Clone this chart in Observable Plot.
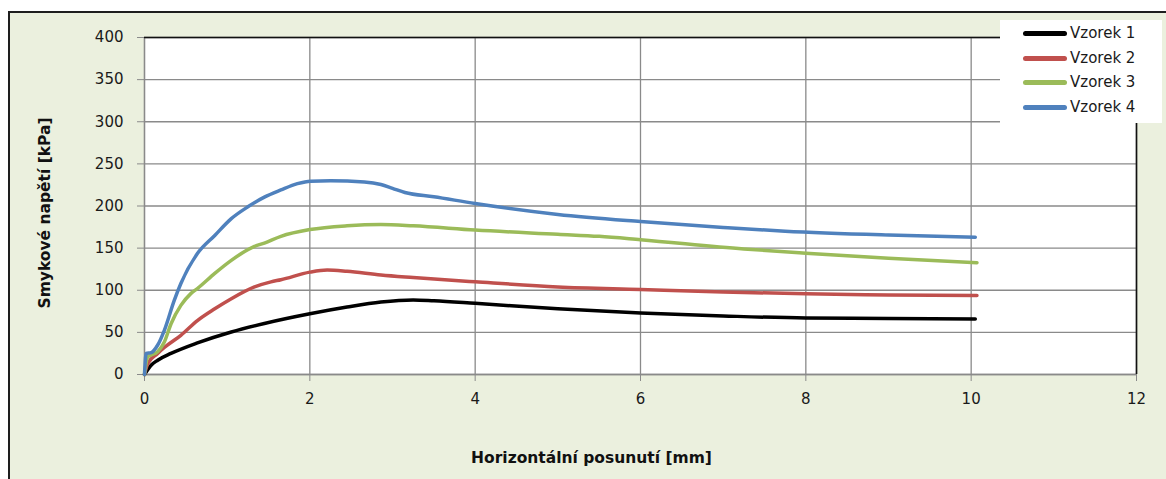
<!DOCTYPE html>
<html><head><meta charset="utf-8">
<script src="https://cdn.jsdelivr.net/npm/d3@7"></script>
<script src="https://cdn.jsdelivr.net/npm/@observablehq/plot@0.6"></script>
<style>
body{margin:0;background:#fff;}
#wrap{position:relative;width:1166px;height:479px;overflow:hidden;font-family:"DejaVu Sans",sans-serif;}
#bg{position:absolute;left:8px;top:11px;width:1200px;height:520px;background:#EBF0DE;border:2px solid #1e1e1e;box-sizing:border-box}
#chart{position:absolute;left:0;top:0}
#legend{position:absolute;left:1000px;top:20px;width:162px;height:103px;background:#fff}
.item{position:absolute;left:23px;height:20px;display:flex;align-items:center;font-size:15px;color:#1a1a1a;white-space:nowrap}
.sw{width:44px;height:5px;border-radius:3px;margin-right:3px}
</style>
</head><body>
<div id="wrap"><div id="bg"></div><div id="chart"></div><div id="legend"></div></div>
<script>
const seriesNames = ["Vzorek 1", "Vzorek 2", "Vzorek 3", "Vzorek 4"];
const seriesColors = ["#000000", "#C0504D", "#9BBB59", "#4F81BD"];
const xTicks = [0, 2, 4, 6, 8, 10, 12];
const yTicks = [0, 50, 100, 150, 200, 250, 300, 350, 400];
const xLabel = "Horizontální posunutí [mm]";
const yLabel = "Smykové napětí [kPa]";

const vzorek1X = [0, 0.02, 0.08, 0.16, 0.32, 0.64, 1.05, 1.45, 2.0, 2.45, 2.86, 3.25, 3.5, 4, 5, 6, 7, 8, 9, 10.05];
const vzorek1Y = [0, 3, 11, 17, 25, 37.5, 50.5, 60.5, 72, 80, 86, 88.5, 87.5, 84.5, 78, 73, 69.5, 67, 66.5, 66];

const vzorek2X = [0, 0.04, 0.16, 0.24, 0.44, 0.64, 0.85, 1.05, 1.33, 1.53, 1.65, 2.0, 2.21, 2.45, 2.86, 3.25, 4, 5, 6, 7, 8, 9, 10.07];
const vzorek2Y = [0, 13, 25, 32, 46.5, 64, 78, 90, 104, 110, 112.5, 121.5, 124, 122.5, 118, 115, 110, 104, 101, 98, 95.7, 94.5, 93.7];

const vzorek3X = [0, 0.04, 0.16, 0.24, 0.32, 0.44, 0.56, 0.64, 0.85, 1.05, 1.33, 1.45, 1.65, 2.0, 2.45, 2.86, 3.25, 4, 5, 5.5, 6, 7.25, 8, 9, 10.07];
const vzorek3Y = [0, 21, 27, 38.5, 60, 82, 96, 102, 120, 135.5, 152, 156, 164, 172, 176.5, 178, 176.5, 171.5, 166.5, 164, 160, 149, 144, 138, 132.7];

const vzorek4X = [0, 0.02, 0.08, 0.16, 0.24, 0.36, 0.44, 0.64, 0.85, 1.05, 1.25, 1.45, 1.65, 1.85, 2.01, 2.25, 2.66, 2.86, 3.0, 3.15, 3.5, 4, 5, 6, 7, 7.75, 9, 10.05];
const vzorek4Y = [0, 25, 26, 35, 52.5, 88, 108, 143.5, 165, 185, 199, 210.5, 219, 226.5, 229.5, 230, 228.5, 225.5, 221, 216, 211, 203, 190, 181.5, 174.5, 170, 165.5, 163];

const allX = [vzorek1X, vzorek2X, vzorek3X, vzorek4X];
const allY = [vzorek1Y, vzorek2Y, vzorek3Y, vzorek4Y];
const data = [];
seriesNames.forEach((name, i) => {
  allX[i].forEach((x, j) => data.push({series: name, x, y: allY[i][j]}));
});

const grid = {stroke: "#8a8a8a", strokeOpacity: 1, strokeWidth: 1.3};

const chart = Plot.plot({
  width: 1166, height: 479,
  marginLeft: 144, marginRight: 30, marginTop: 37, marginBottom: 105,
  style: {background: "transparent", fontFamily: "DejaVu Sans, sans-serif", fontSize: "15px", color: "#1a1a1a"},
  x: {domain: [0, 12]},
  y: {domain: [0, 400]},
  color: {domain: seriesNames, range: seriesColors},
  marks: [
    Plot.frame({fill: "white", stroke: null}),
    Plot.gridX(xTicks, grid),
    Plot.gridY(yTicks, grid),
    Plot.axisY({ticks: yTicks, tickSize: 7, tickPadding: 14, stroke: "#8a8a8a", fill: "#1a1a1a", label: null, fontSize: 15}),
    Plot.axisX({ticks: xTicks, tickSize: 7, tickPadding: 12, stroke: "#8a8a8a", fill: "#1a1a1a", label: null, fontSize: 15}),
    Plot.ruleX([0], {stroke: "#8a8a8a", strokeWidth: 1.3}),
    Plot.ruleY([0], {stroke: "#8a8a8a", strokeWidth: 1.3}),
    Plot.ruleY([400], {stroke: "#111", strokeWidth: 1.6}),
    Plot.ruleX([12], {stroke: "#111", strokeWidth: 1.6}),
    Plot.line(data, {x: "x", y: "y", z: "series", stroke: "series", strokeWidth: 3.5, curve: "monotone-x", strokeLinecap: "round", strokeLinejoin: "round"}),
    Plot.text([xLabel], {frameAnchor: "bottom", textAnchor: "middle", lineAnchor: "middle", dy: 84, dx: -49, fontWeight: "bold", fontSize: 15.5, fill: "#111"}),
    Plot.text([yLabel], {frameAnchor: "left", textAnchor: "middle", lineAnchor: "middle", dx: -99, dy: 7, rotate: -90, fontWeight: "bold", fontSize: 15.5, fill: "#111"})
  ]
});
document.getElementById("chart").appendChild(chart);

const legend = document.getElementById("legend");
const legendTops = [3, 28, 52, 77];
seriesNames.forEach((name, i) => {
  const it = document.createElement("div");
  it.className = "item";
  it.style.top = legendTops[i] + "px";
  const sw = document.createElement("div");
  sw.className = "sw";
  sw.style.background = seriesColors[i];
  it.appendChild(sw);
  const t = document.createElement("span");
  t.textContent = name;
  it.appendChild(t);
  legend.appendChild(it);
});
</script>
</body></html>
